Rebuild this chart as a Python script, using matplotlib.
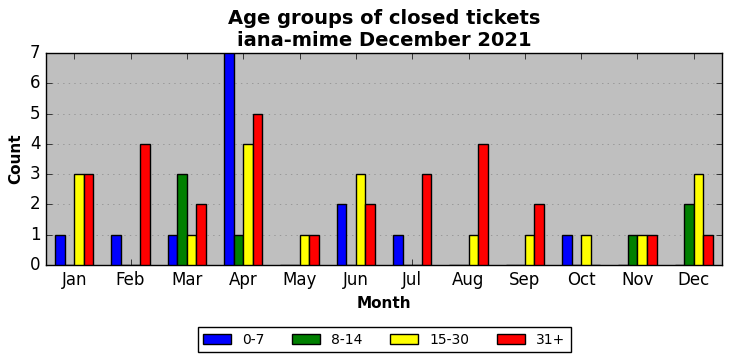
import numpy as np
import matplotlib
matplotlib.use('Agg')
import matplotlib.pyplot as plt

# %%
# Counts
months = ['Jan', 'Feb', 'Mar', 'Apr', 'May', 'Jun',
          'Jul', 'Aug', 'Sep', 'Oct', 'Nov', 'Dec']
age_0_7 = [1, 1, 1, 7, 0, 2, 1, 0, 0, 1, 0, 0]
age_8_14 = [0, 0, 3, 1, 0, 0, 0, 0, 0, 0, 1, 2]
age_15_30 = [3, 0, 1, 4, 1, 3, 0, 1, 1, 1, 1, 3]
age_31_plus = [3, 4, 2, 5, 1, 2, 3, 4, 2, 0, 1, 1]

series = [('0-7', age_0_7, 'blue'), ('8-14', age_8_14, 'green'),
          ('15-30', age_15_30, 'yellow'), ('31+', age_31_plus, 'red')]

# %%
plt.style.use('classic')
fig = plt.figure(figsize=(7.32, 3.61), dpi=100)
ax = fig.add_axes([46/732, 1 - 265/361, 676/732, 212/361])
ax.set_facecolor('#bfbfbf')

x = np.arange(len(months))
w = 0.17
for i, (name, vals, col) in enumerate(series):
    ax.bar(x + (i - 1.5) * w, vals, w, color=col, edgecolor='black',
           linewidth=1, label=name, zorder=3)

ax.set_xlim(-0.5, 11.5)
ax.set_ylim(0, 7)
ax.set_xticks(x)
ax.set_xticklabels(months, fontsize=12)
ax.tick_params(axis='y', labelsize=12)
ax.yaxis.grid(True, linestyle=':', color='#888888', zorder=0)
ax.set_axisbelow(True)
ax.set_xlabel('Month', fontsize=11, fontweight='bold')
ax.set_ylabel('Count', fontsize=11, fontweight='bold')
ax.set_title('Age groups of closed tickets\niana-mime December 2021',
             fontsize=14, fontweight='bold')
ax.legend(loc='upper center', bbox_to_anchor=(0.5, -0.26), ncol=4,
          fontsize=10, frameon=True, fancybox=False, handlelength=2.0,
          columnspacing=2.0)

fig.savefig('out.png', dpi=100, facecolor='white')
